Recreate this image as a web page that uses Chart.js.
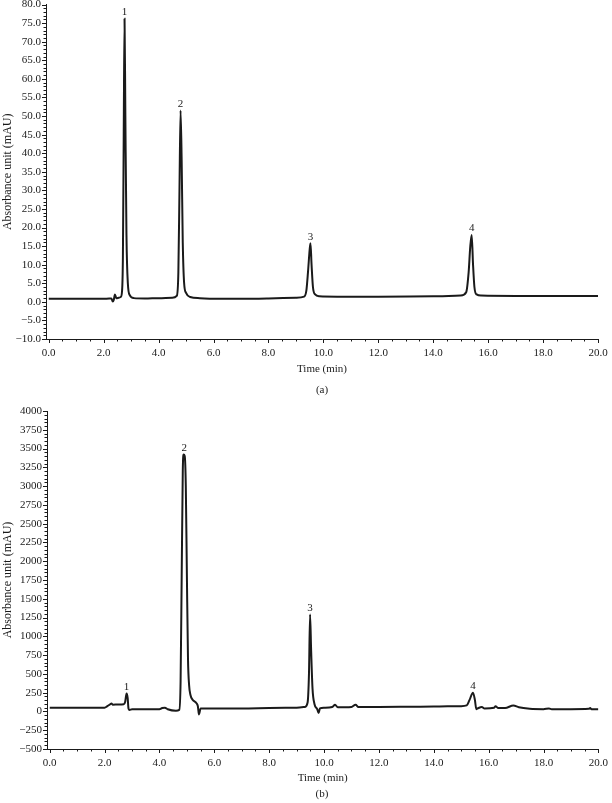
<!DOCTYPE html>
<html>
<head>
<meta charset="utf-8">
<script src="https://cdn.jsdelivr.net/npm/chart.js@4.4.1/dist/chart.umd.min.js"></script>
<style>
  body { margin: 0; background: #fff; width: 612px; height: 803px; position: relative; overflow: hidden; }
  canvas { position: absolute; left: 0; }
  #chartA { top: -3px; }
  #chartB { top: 400px; }
  .caption { position: absolute; left: 0; width: 644px; text-align: center; font: 11px "Liberation Serif", serif; color: #222; }
</style>
</head>
<body>
<canvas id="chartA" width="612" height="403"></canvas>
<div class="caption" style="top:383px">(a)</div>
<canvas id="chartB" width="612" height="403"></canvas>
<div class="caption" style="top:787px">(b)</div>
<script>
// (a) standard mixture, mAU vs min
const aTime = [0.0, 1.0, 2.0, 2.2, 2.28, 2.33, 2.37, 2.41, 2.46, 2.55, 2.62, 2.67, 2.7, 2.73, 2.76, 2.79, 2.83, 2.88, 2.95, 3.1, 3.5, 4.0, 4.5, 4.66, 4.72, 4.76, 4.8, 4.84, 4.88, 4.93, 5.0, 5.15, 5.5, 6.0, 7.0, 8.0, 9.0, 9.3, 9.38, 9.44, 9.5, 9.53, 9.57, 9.62, 9.7, 9.85, 10.5, 12.0, 14.0, 15.0, 15.2, 15.29, 15.35, 15.4, 15.45, 15.5, 15.58, 15.75, 17.0, 20.0];
const aSignal = [0.8, 0.8, 0.8, 0.9, 0.9, 0.1, 0.6, 2.0, 1.0, 1.1, 1.3, 3.0, 12.0, 45.0, 76.2, 50.0, 18.0, 5.0, 1.8, 1.0, 0.9, 1.0, 1.1, 1.6, 8.0, 30.0, 51.5, 38.0, 16.0, 5.0, 2.4, 1.3, 1.0, 0.8, 0.8, 0.9, 1.1, 1.4, 3.0, 8.0, 14.0, 15.8, 10.0, 4.0, 2.0, 1.5, 1.4, 1.4, 1.5, 1.7, 2.6, 8.0, 15.0, 18.0, 10.0, 4.0, 2.0, 1.7, 1.6, 1.6];
const aPeakTimes = [2.76, 4.8, 9.53, 15.4];
const aPeakValues = [76.2, 51.5, 15.8, 18.0];

// (b) sample extract
const bTime = [0.0, 2.0, 2.1, 2.2, 2.25, 2.3, 2.5, 2.7, 2.75, 2.8, 2.84, 2.87, 2.9, 3.0, 3.5, 4.0, 4.1, 4.2, 4.3, 4.6, 4.72, 4.77, 4.81, 4.85, 4.88, 4.92, 4.96, 5.0, 5.04, 5.08, 5.13, 5.2, 5.35, 5.4, 5.44, 5.5, 6.0, 7.0, 8.0, 9.0, 9.3, 9.4, 9.45, 9.49, 9.53, 9.58, 9.65, 9.75, 9.8, 9.85, 10.0, 10.3, 10.4, 10.5, 11.0, 11.15, 11.25, 12.0, 13.0, 14.0, 14.5, 15.0, 15.2, 15.3, 15.43, 15.5, 15.55, 15.6, 15.75, 15.85, 16.2, 16.25, 16.35, 16.6, 16.9, 17.1, 17.5, 18.0, 18.2, 18.3, 19.0, 19.65, 19.7, 19.75, 20.0];
const bSignal = [50, 50, 70, 95, 105, 90, 92, 95, 130, 240, 180, 40, 20, 30, 28, 30, 45, 50, 30, 10, 20, 400, 1800, 3200, 3420, 3400, 3000, 1800, 700, 350, 220, 160, 110, 70, -40, 40, 40, 40, 45, 50, 60, 120, 500, 1290, 800, 300, 100, 30, -20, 40, 50, 60, 90, 55, 60, 90, 60, 60, 62, 65, 70, 70, 80, 150, 250, 150, 30, 40, 60, 40, 50, 70, 45, 45, 80, 55, 35, 30, 40, 30, 30, 35, 45, 30, 30];
const bPeakTimes = [2.8, 4.9, 9.49, 15.43];
const bPeakValues = [240, 3420, 1290, 250];

const peakNames = ['1', '2', '3', '4'];
const serif = '"Liberation Serif", "DejaVu Serif", serif';
const ink = '#1a1a1a';

// tick marks: long for majors, short for minors, all outward
const tickMarks = {
  id: 'tickMarks',
  afterDraw(chart, args, opts) {
    const { ctx, chartArea } = chart;
    const xs = chart.scales.x, ys = chart.scales.y;
    ctx.save();
    ctx.strokeStyle = ink;
    ctx.lineWidth = 1;
    ctx.beginPath();
    xs.ticks.forEach((t) => {
      const major = Math.abs(t.value / opts.xMajor - Math.round(t.value / opts.xMajor)) < 1e-6;
      const px = Math.round(xs.getPixelForValue(t.value)) + 0.5;
      ctx.moveTo(px, chartArea.bottom);
      ctx.lineTo(px, chartArea.bottom + (major ? 4 : 2.5));
    });
    ys.ticks.forEach((t) => {
      const major = Math.abs(t.value / opts.yMajor - Math.round(t.value / opts.yMajor)) < 1e-6;
      const py = Math.round(ys.getPixelForValue(t.value)) + 0.5;
      ctx.moveTo(chartArea.left, py);
      ctx.lineTo(chartArea.left - (major ? 4 : 2.5), py);
    });
    ctx.stroke();

    // peak numbers
    ctx.fillStyle = ink;
    ctx.font = '11px ' + serif;
    ctx.textAlign = 'center';
    ctx.textBaseline = 'bottom';
    opts.peakTimes.forEach((tm, i) => {
      ctx.fillText(peakNames[i], xs.getPixelForValue(tm), ys.getPixelForValue(opts.peakValues[i]) - 1);
    });
    ctx.restore();
  },
};

function makeChart(id, time, signal, cfg) {
  const points = time.map((t, i) => ({ x: t, y: signal[i] }));
  return new Chart(document.getElementById(id), {
    type: 'line',
    data: {
      datasets: [{
        data: points,
        borderColor: ink,
        borderWidth: 2,
        pointRadius: 0,
        cubicInterpolationMode: 'monotone',
        fill: false,
      }],
    },
    plugins: [tickMarks],
    options: {
      responsive: false,
      animation: false,
      layout: { padding: cfg.padding },
      plugins: {
        legend: { display: false },
        tooltip: { enabled: false },
        tickMarks: {
          xMajor: 2, yMajor: cfg.yMajor,
          peakTimes: cfg.peakTimes, peakValues: cfg.peakValues,
        },
      },
      scales: {
        x: {
          type: 'linear',
          min: -0.1,
          max: 20,
          afterFit: (s) => { s.height = cfg.xHeight; },
          border: { display: true, color: ink, width: 1 },
          grid: { display: true, drawOnChartArea: false, tickLength: 4, tickColor: 'rgba(0,0,0,0)' },
          ticks: {
            stepSize: 0.5,
            includeBounds: false,
            autoSkip: false,
            maxRotation: 0,
            padding: 4,
            color: ink,
            font: { family: serif, size: 11 },
            callback: (v) => (Math.abs(v / 2 - Math.round(v / 2)) < 1e-6 ? v.toFixed(1) : ''),
          },
          title: {
            display: true,
            text: 'Time (min)',
            color: ink,
            font: { family: serif, size: 11 },
            padding: { top: 0, bottom: 0 },
          },
        },
        y: {
          min: cfg.yMin,
          max: cfg.yMax,
          afterFit: (s) => { s.width = cfg.yWidth; },
          border: { display: true, color: ink, width: 1 },
          grid: { display: true, drawOnChartArea: false, tickLength: 4, tickColor: 'rgba(0,0,0,0)' },
          ticks: {
            stepSize: cfg.yMinor,
            autoSkip: false,
            padding: 1,
            color: ink,
            font: { family: serif, size: 11 },
            callback: (v) => (Math.abs(v / cfg.yMajor - Math.round(v / cfg.yMajor)) < 1e-6 ? cfg.fmt(v) : ''),
          },
          title: {
            display: true,
            text: 'Absorbance unit (mAU)',
            color: ink,
            font: { family: serif, size: 12 },
            padding: { top: 1, bottom: 0 },
          },
        },
      },
    },
  });
}

makeChart('chartA', aTime, aSignal, {
  yMin: -10, yMax: 80, yMajor: 5, yMinor: 1,
  fmt: (v) => v.toFixed(1).replace('-', '\u2212'),
  yWidth: 46, xHeight: 37,
  padding: { left: 0, right: 14, top: 4, bottom: 24 },
  peakTimes: aPeakTimes, peakValues: aPeakValues,
});

makeChart('chartB', bTime, bSignal, {
  yMin: -500, yMax: 4000, yMajor: 250, yMinor: 50,
  fmt: (v) => String(v).replace('-', '\u2212'),
  yWidth: 47, xHeight: 36,
  padding: { left: 0, right: 12, top: 11, bottom: 18 },
  peakTimes: bPeakTimes, peakValues: bPeakValues,
});
</script>
</body>
</html>
